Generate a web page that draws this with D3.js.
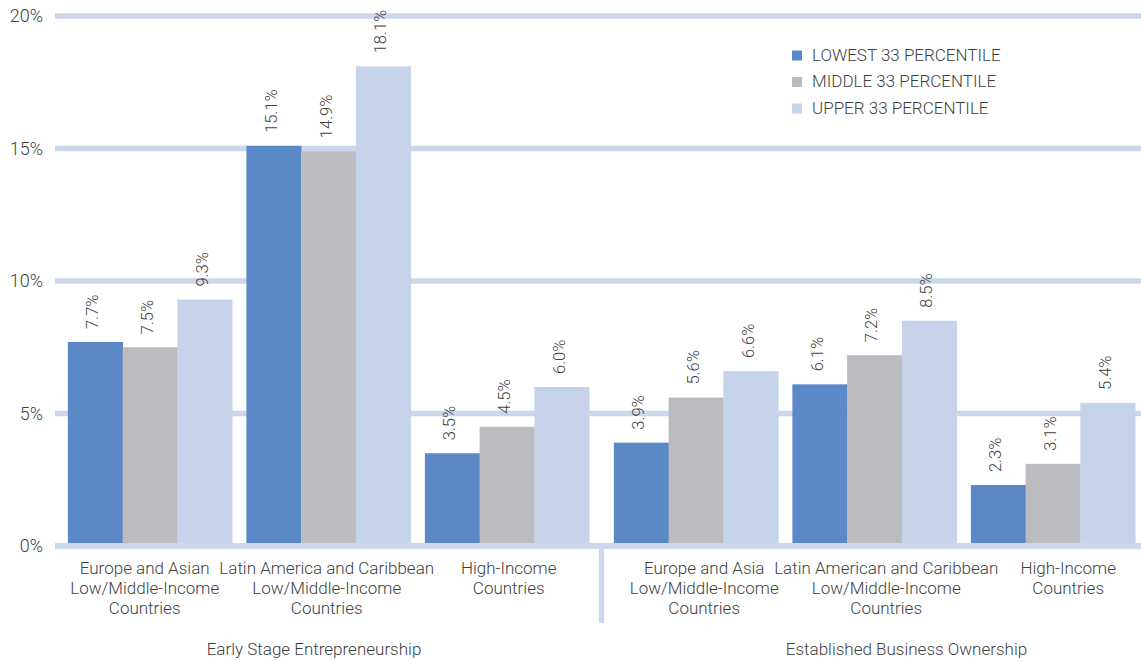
<!DOCTYPE html>
<html>
<head>
<meta charset="utf-8">
<script src="https://cdn.jsdelivr.net/npm/d3@7/dist/d3.min.js"></script>
<style>
  html, body { margin: 0; padding: 0; background: #ffffff; }
  svg { display: block; }
  text { font-family: Roboto, "Liberation Sans", sans-serif; font-weight: 300; fill: #3f3f3f; }
</style>
</head>
<body>
<svg id="chart" width="1141" height="661"></svg>
<script>
// Share of adults by income percentile, per region and activity stage (%)
const groupNames = ["Early Stage Entrepreneurship", "Established Business Ownership"];
const categoryGroup = [0, 0, 0, 1, 1, 1];
const categoryLines = [
  ["Europe and Asian", "Low/Middle-Income", "Countries"],
  ["Latin America and Caribbean", "Low/Middle-Income", "Countries"],
  ["High-Income", "Countries"],
  ["Europe and Asia", "Low/Middle-Income", "Countries"],
  ["Latin American and Caribbean", "Low/Middle-Income", "Countries"],
  ["High-Income", "Countries"]
];
const seriesNames = ["LOWEST 33 PERCENTILE", "MIDDLE 33 PERCENTILE", "UPPER 33 PERCENTILE"];
const lowest = [7.7, 15.1, 3.5, 3.9, 6.1, 2.3];
const middle = [7.5, 14.9, 4.5, 5.6, 7.2, 3.1];
const upper  = [9.3, 18.1, 6.0, 6.6, 8.5, 5.4];
const yTicks = [0, 5, 10, 15, 20];

const series = [lowest, middle, upper];
const colors = ["#5b88c6", "#bbbcc0", "#c7d3eb"];
const gridColor = "#cdd7ec";

const svg = d3.select("#chart");

const y = d3.scaleLinear().domain([0, 20]).range([546, 16]);

// bars: group -> category -> series
const outerX = d3.scaleBand().domain([0, 1]).range([60.75, 1142.25]).paddingInner(0.0192);
const innerX = d3.scaleBand().domain([0, 1, 2]).range([0, outerX.bandwidth()]);
const seriesX = d3.scaleBand().domain([0, 1, 2]).range([0, innerX.bandwidth()]).paddingOuter(0.13);

// category text and group titles sit on their own bands
const tickOuter = d3.scaleBand().domain([0, 1]).range([53.7, 1159.2]).paddingInner(0.0241);
const tickInner = d3.scaleBand().domain([0, 1, 2]).range([0, tickOuter.bandwidth()]);
const titleX = d3.scaleBand().domain([0, 1]).range([17.75, 1202.75]);

const catIndexInGroup = categoryGroup.map((g, i) => i - categoryGroup.indexOf(g));
const barLeft = i => outerX(categoryGroup[i]) + innerX(catIndexInGroup[i]);
const tickCenter = i => tickOuter(categoryGroup[i]) + tickInner(catIndexInGroup[i]) + tickInner.bandwidth() / 2;

const gridX0 = 55, gridX1 = 1141;

// horizontal gridlines (behind bars)
svg.append("g").selectAll("line")
  .data(yTicks.filter(t => t !== 0))
  .join("line")
  .attr("x1", gridX0).attr("x2", gridX1)
  .attr("y1", d => y(d)).attr("y2", d => y(d))
  .attr("stroke", gridColor).attr("stroke-width", 5.3);

// y tick labels
svg.append("g").selectAll("text")
  .data(yTicks)
  .join("text")
  .attr("x", 43)
  .attr("y", d => y(d))
  .attr("dy", "0.36em")
  .attr("text-anchor", "end")
  .style("font-size", "18px")
  .text(d => d + "%");

// bars
const barData = [];
series.forEach((vals, s) => vals.forEach((v, i) => barData.push({ s, i, v })));

svg.append("g").selectAll("rect")
  .data(barData)
  .join("rect")
  .attr("x", d => barLeft(d.i) + seriesX(d.s))
  .attr("width", seriesX.bandwidth() + 0.4)
  .attr("y", d => y(d.v))
  .attr("height", d => y(0) - y(d.v))
  .attr("fill", d => colors[d.s]);

// value labels, rotated
svg.append("g").selectAll("text")
  .data(barData)
  .join("text")
  .attr("transform", d => {
    const cx = barLeft(d.i) + seriesX(d.s) + seriesX.bandwidth() / 2;
    return `translate(${cx + 3},${y(d.v) - 13}) rotate(-90)`;
  })
  .attr("text-anchor", "start")
  .style("font-size", "16.5px")
  .text(d => d.v.toFixed(1) + "%");

// baseline on top of bar bottoms
svg.append("line")
  .attr("x1", gridX0).attr("x2", gridX1)
  .attr("y1", y(0)).attr("y2", y(0))
  .attr("stroke", gridColor).attr("stroke-width", 6);

// separator between the two groups
const sepX = outerX(1) - outerX.step() * outerX.paddingInner() / 2;
svg.append("line")
  .attr("x1", sepX).attr("x2", sepX)
  .attr("y1", y(0)).attr("y2", 623)
  .attr("stroke", gridColor).attr("stroke-width", 5.3);

// category labels
const catG = svg.append("g");
categoryLines.forEach((lines, i) => {
  const t = catG.append("text")
    .attr("text-anchor", "middle")
    .style("font-size", "17px");
  lines.forEach((ln, k) => {
    t.append("tspan")
      .attr("x", tickCenter(i))
      .attr("y", 574 + k * 20)
      .text(ln);
  });
});

// group titles
svg.append("g").selectAll("text")
  .data(groupNames)
  .join("text")
  .attr("x", (d, i) => titleX(i) + titleX.bandwidth() / 2)
  .attr("y", 655)
  .attr("text-anchor", "middle")
  .style("font-size", "17px")
  .text(d => d);

// legend
const legend = svg.append("g").attr("transform", "translate(792,50.5)");
seriesNames.forEach((name, s) => {
  const row = legend.append("g").attr("transform", `translate(0,${s * 26.5})`);
  row.append("rect").attr("width", 10).attr("height", 10).attr("fill", colors[s]);
  row.append("text").attr("x", 20).attr("y", 10).style("font-size", "17px").text(name);
});
</script>
</body>
</html>
